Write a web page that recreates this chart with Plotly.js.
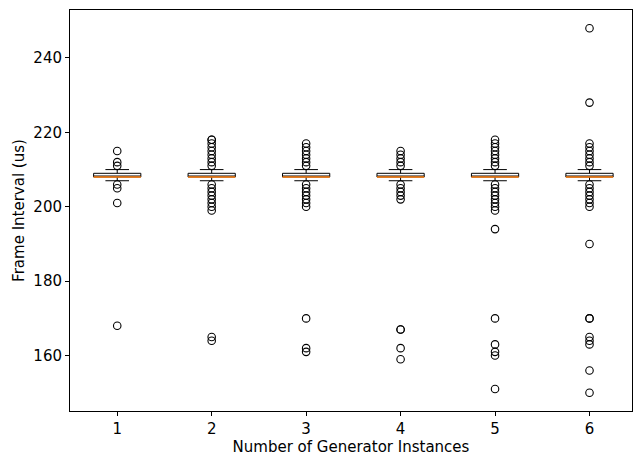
<!DOCTYPE html>
<html>
<head>
<meta charset="utf-8">
<script src="https://cdn.plot.ly/plotly-3.0.1.min.js"></script>
<style>html,body{margin:0;padding:0;background:#fff;}#chart{width:633px;height:456px;}</style>
</head>
<body>
<div id="chart"></div>
<script>
// Categories: number of generator instances
const categories = [1, 2, 3, 4, 5, 6];
// Box statistics (us)
const q1Values = [208, 208, 208, 208, 208, 208];
const medianValues = [208, 208, 208, 208, 208, 208];
const q3Values = [209, 209, 209, 209, 209, 209];
const lowerWhisker = [207, 207, 207, 207, 207, 207];
const upperWhisker = [210, 210, 210, 210, 210, 210];
// Outliers per category (us)
const outliers1 = [215, 212, 211, 206, 205, 201, 168];
const outliers2 = [218, 218, 217, 216, 215, 214, 213, 212, 211, 206, 205, 204, 203, 202, 201, 200, 199, 165, 164];
const outliers3 = [217, 216, 215, 214, 213, 212, 211, 206, 205, 204, 203, 202, 201, 200, 170, 162, 161];
const outliers4 = [215, 214, 213, 212, 211, 206, 205, 204, 203, 202, 167, 167, 162, 159];
const outliers5 = [218, 217, 216, 215, 214, 213, 212, 211, 206, 205, 204, 203, 202, 201, 200, 199, 194, 170, 163, 161, 160, 151];
const outliers6 = [248, 228, 217, 216, 215, 214, 213, 212, 211, 206, 205, 204, 203, 202, 201, 200, 190, 170, 170, 165, 164, 163, 156, 150];
const outlierSets = [outliers1, outliers2, outliers3, outliers4, outliers5, outliers6];
const yTicks = [160, 180, 200, 220, 240];

const traces = [];
traces.push({
  type: 'box', x: categories, q1: q1Values, median: medianValues, q3: q3Values,
  lowerfence: lowerWhisker, upperfence: upperWhisker,
  width: 0.5, whiskerwidth: 0.5, fillcolor: 'rgba(255,255,255,0)',
  line: {color: '#000000', width: 1}, boxpoints: false, hoverinfo: 'skip'
});
// Median line in orange (degenerate box at median)
traces.push({
  type: 'box', x: categories, q1: medianValues, median: medianValues, q3: medianValues,
  lowerfence: medianValues, upperfence: medianValues,
  width: 0.5, whiskerwidth: 0, fillcolor: 'rgba(0,0,0,0)',
  line: {color: '#ff7f0e', width: 1.3}, boxpoints: false, hoverinfo: 'skip'
});
outlierSets.forEach((vals, i) => {
  traces.push({
    type: 'scatter', mode: 'markers',
    x: vals.map(() => categories[i]), y: vals,
    marker: {symbol: 'circle-open', size: 7.5, color: '#000000', line: {width: 1.1}},
    hoverinfo: 'skip'
  });
});

const font = {family: 'DejaVu Sans', size: 15, color: '#000000'};
const layout = {
  width: 633, height: 456,
  margin: {l: 70, r: 1, t: 10, b: 45},
  paper_bgcolor: '#ffffff', plot_bgcolor: '#ffffff',
  showlegend: false,
  font: font,
  xaxis: {
    range: [0.5, 6.45], tickmode: 'array', tickvals: categories,
    ticktext: categories.map(String),
    showgrid: false, zeroline: false,
    showline: true, mirror: true, linecolor: '#000000', linewidth: 1,
    ticks: 'outside', ticklen: 4, tickwidth: 1, tickcolor: '#000000',
    tickfont: font,
    title: {text: 'Number of Generator Instances', font: font, standoff: 6}
  },
  yaxis: {
    range: [145.1, 252.9], tickmode: 'array', tickvals: yTicks,
    showgrid: false, zeroline: false,
    showline: true, mirror: true, linecolor: '#000000', linewidth: 1,
    ticks: 'outside', ticklen: 4, tickwidth: 1, tickcolor: '#000000',
    tickfont: font,
    title: {text: 'Frame Interval (us)', font: font, standoff: 5}
  }
};
Plotly.newPlot('chart', traces, layout, {displayModeBar: false, staticPlot: true});
</script>
</body>
</html>
